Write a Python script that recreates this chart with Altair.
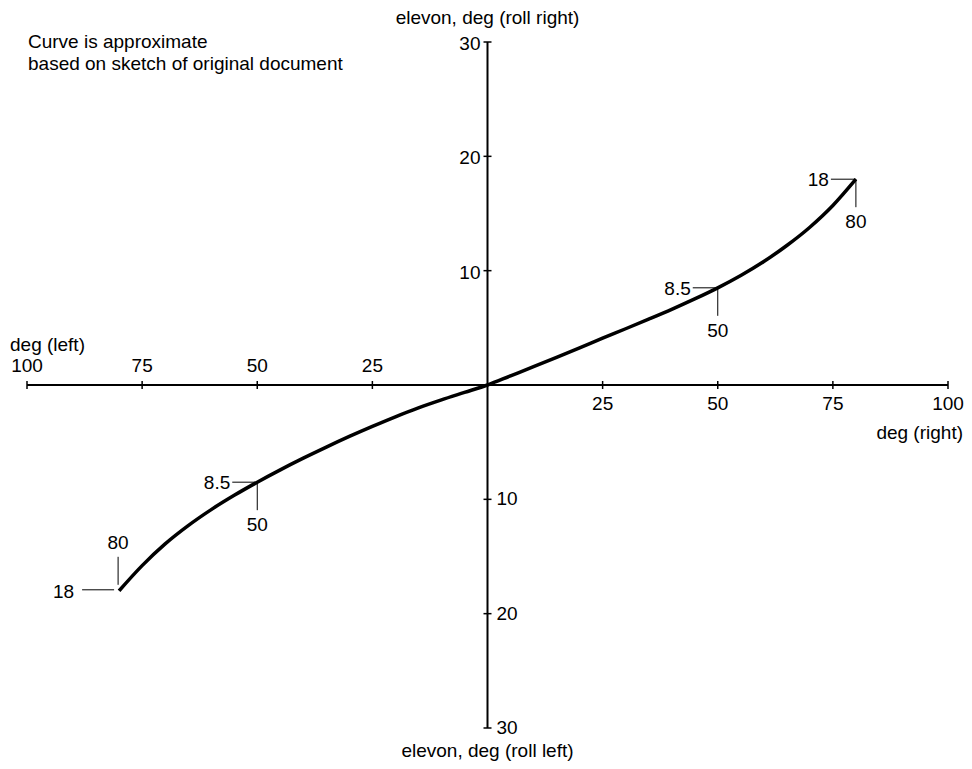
import altair as alt
import pandas as pd

# ---- data ----
curve_x = [-80, -75, -70, -65, -60, -55, -50, -45, -40, -35, -30, -25, -20, -15, -10, -5,
           0, 5, 10, 15, 20, 25, 30, 35, 40, 45, 50, 55, 60, 65, 70, 75, 80]
curve_y = [-18.0, -15.8, -13.9, -12.3, -10.9, -9.65, -8.5, -7.42, -6.4, -5.43, -4.5, -3.62, -2.78, -2.0, -1.3, -0.65,
           0.0, 0.8, 1.6, 2.42, 3.25, 4.1, 4.92, 5.76, 6.62, 7.53, 8.5, 9.58, 10.8, 12.2, 13.8, 15.7, 18.0]

x_ticks = [-100, -75, -50, -25, 25, 50, 75, 100]
x_tick_labels = ["100", "75", "50", "25", "25", "50", "75", "100"]
y_ticks = [-30, -20, -10, 10, 20, 30]
y_tick_labels = ["30", "20", "10", "10", "20", "30"]

# marked points on the curve (labels below / above)
ann_below_x = [80, 50, -50]
ann_below_y = [18, 8.5, -8.5]
ann_above_x = [-80]
ann_above_y = [-18]

title_top = "elevon, deg (roll right)"
title_bottom = "elevon, deg (roll left)"
title_left = "deg (left)"
title_right = "deg (right)"
note_lines = ["Curve is approximate", "based on sketch of original document"]

FONT = "Liberation Sans"
FS = 19

curve_df = pd.DataFrame({"x": curve_x, "y": curve_y})
xt_df = pd.DataFrame({"x": x_ticks, "label": x_tick_labels, "zero": 0})
yt_df = pd.DataFrame({"y": y_ticks, "label": y_tick_labels, "zero": 0})
xaxis_df = pd.DataFrame({"x0": [min(x_ticks)], "x1": [max(x_ticks)], "y0": [0]})
yaxis_df = pd.DataFrame({"y0": [min(y_ticks)], "y1": [max(y_ticks)], "x0": [0]})


def ann_frame(xs, ys):
    return pd.DataFrame({
        "x": xs, "y": ys,
        "xlab": [f"{abs(v):g}" for v in xs],
        "ylab": [f"{abs(v):g}" for v in ys],
    })


below_df = ann_frame(ann_below_x, ann_below_y)
above_df = ann_frame(ann_above_x, ann_above_y)

titles_df = pd.DataFrame({
    "text": [title_top, title_bottom, title_left, title_right],
    "x": [0, 0, min(x_ticks), max(x_ticks)],
    "y": [max(y_ticks), min(y_ticks), 0, 0],
})
note_df = pd.DataFrame({"x": [min(x_ticks)], "y": [max(y_ticks)]})

XS = alt.Scale(domain=[-100, 100], nice=False, zero=False)
YS = alt.Scale(domain=[-30, 30], nice=False, zero=False)


def X(f):
    return alt.X(f, scale=XS, axis=None)


def Y(f):
    return alt.Y(f, scale=YS, axis=None)


# ---- layers ----
curve = alt.Chart(curve_df).mark_line(
    color="black", strokeWidth=3.5, interpolate="monotone"
).encode(x=X("x:Q"), y=Y("y:Q"))

x_axis_line = alt.Chart(xaxis_df).mark_rule(color="black", strokeWidth=2).encode(
    x=X("x0:Q"), x2="x1:Q", y=Y("y0:Q"))
y_axis_line = alt.Chart(yaxis_df).mark_rule(color="black", strokeWidth=2).encode(
    y=Y("y0:Q"), y2="y1:Q", x=X("x0:Q"))

x_tick_marks = alt.Chart(xt_df).mark_rule(
    color="black", strokeWidth=1.5, yOffset=-4, y2Offset=4
).encode(x=X("x:Q"), y=Y("zero:Q"), y2="zero:Q")

y_tick_marks = alt.Chart(yt_df).mark_rule(
    color="black", strokeWidth=1.5, xOffset=-4, x2Offset=4
).encode(y=Y("y:Q"), x=X("zero:Q"), x2="zero:Q")

x_lab_neg = alt.Chart(xt_df).transform_filter("datum.x < 0").mark_text(
    font=FONT, fontSize=FS, dy=-19, color="black"
).encode(x=X("x:Q"), y=Y("zero:Q"), text="label:N")
x_lab_pos = alt.Chart(xt_df).transform_filter("datum.x > 0").mark_text(
    font=FONT, fontSize=FS, dy=19, color="black"
).encode(x=X("x:Q"), y=Y("zero:Q"), text="label:N")

y_lab_pos = alt.Chart(yt_df).transform_filter("datum.y > 0").mark_text(
    font=FONT, fontSize=FS, align="right", dx=-7, dy=2, color="black"
).encode(y=Y("y:Q"), x=X("zero:Q"), text="label:N")
y_lab_neg = alt.Chart(yt_df).transform_filter("datum.y < 0").mark_text(
    font=FONT, fontSize=FS, align="left", dx=9, dy=0, color="black"
).encode(y=Y("y:Q"), x=X("zero:Q"), text="label:N")

# leader lines, labels below the point
lead_b_h = alt.Chart(below_df).mark_rule(color="black", strokeWidth=1, xOffset=-25).encode(
    x=X("x:Q"), x2="x:Q", y=Y("y:Q"))
lead_b_v = alt.Chart(below_df).mark_rule(color="black", strokeWidth=1, y2Offset=28).encode(
    x=X("x:Q"), y=Y("y:Q"), y2="y:Q")
lab_b_y = alt.Chart(below_df).mark_text(
    font=FONT, fontSize=FS, align="right", dx=-27, dy=1, color="black"
).encode(x=X("x:Q"), y=Y("y:Q"), text="ylab:N")
lab_b_x = alt.Chart(below_df).mark_text(
    font=FONT, fontSize=FS, dy=43, color="black"
).encode(x=X("x:Q"), y=Y("y:Q"), text="xlab:N")

# leader lines, labels above the point (curve end on the left)
lead_a_h = alt.Chart(above_df).mark_rule(
    color="black", strokeWidth=1, xOffset=-37, x2Offset=-5, yOffset=-1, y2Offset=-1
).encode(x=X("x:Q"), x2="x:Q", y=Y("y:Q"))
lead_a_v = alt.Chart(above_df).mark_rule(
    color="black", strokeWidth=1, xOffset=-1, yOffset=-34, y2Offset=-6
).encode(x=X("x:Q"), y=Y("y:Q"), y2="y:Q")
lab_a_y = alt.Chart(above_df).mark_text(
    font=FONT, fontSize=FS, align="right", dx=-45, dy=1, color="black"
).encode(x=X("x:Q"), y=Y("y:Q"), text="ylab:N")
lab_a_x = alt.Chart(above_df).mark_text(
    font=FONT, fontSize=FS, dx=-1, dy=-48, color="black"
).encode(x=X("x:Q"), y=Y("y:Q"), text="xlab:N")

# titles
t_top = alt.Chart(titles_df).transform_filter(alt.datum.text == title_top).mark_text(
    font=FONT, fontSize=FS, dy=-24, color="black").encode(x=X("x:Q"), y=Y("y:Q"), text="text:N")
t_bottom = alt.Chart(titles_df).transform_filter(alt.datum.text == title_bottom).mark_text(
    font=FONT, fontSize=FS, dy=23, color="black").encode(x=X("x:Q"), y=Y("y:Q"), text="text:N")
t_left = alt.Chart(titles_df).transform_filter(alt.datum.text == title_left).mark_text(
    font=FONT, fontSize=FS, align="left", dx=-17, dy=-40, color="black").encode(
    x=X("x:Q"), y=Y("y:Q"), text="text:N")
t_right = alt.Chart(titles_df).transform_filter(alt.datum.text == title_right).mark_text(
    font=FONT, fontSize=FS, align="right", dx=15, dy=48, color="black").encode(
    x=X("x:Q"), y=Y("y:Q"), text="text:N")
note = alt.Chart(note_df).mark_text(
    font=FONT, fontSize=FS, align="left", baseline="top", dx=1, dy=-9,
    lineHeight=22, color="black", text=note_lines
).encode(x=X("x:Q"), y=Y("y:Q"))

chart = alt.layer(
    curve, x_axis_line, y_axis_line, x_tick_marks, y_tick_marks,
    x_lab_neg, x_lab_pos, y_lab_pos, y_lab_neg,
    lead_b_h, lead_b_v, lab_b_y, lab_b_x,
    lead_a_h, lead_a_v, lab_a_y, lab_a_x,
    t_top, t_bottom, t_left, t_right, note,
).properties(
    width=921, height=686,
    padding={"left": 19, "top": 34, "right": 16, "bottom": 33},
    autosize="none",
    background="white",
).configure_view(stroke=None)

chart.save("out.html", embed_options={"renderer": "svg", "actions": False})
